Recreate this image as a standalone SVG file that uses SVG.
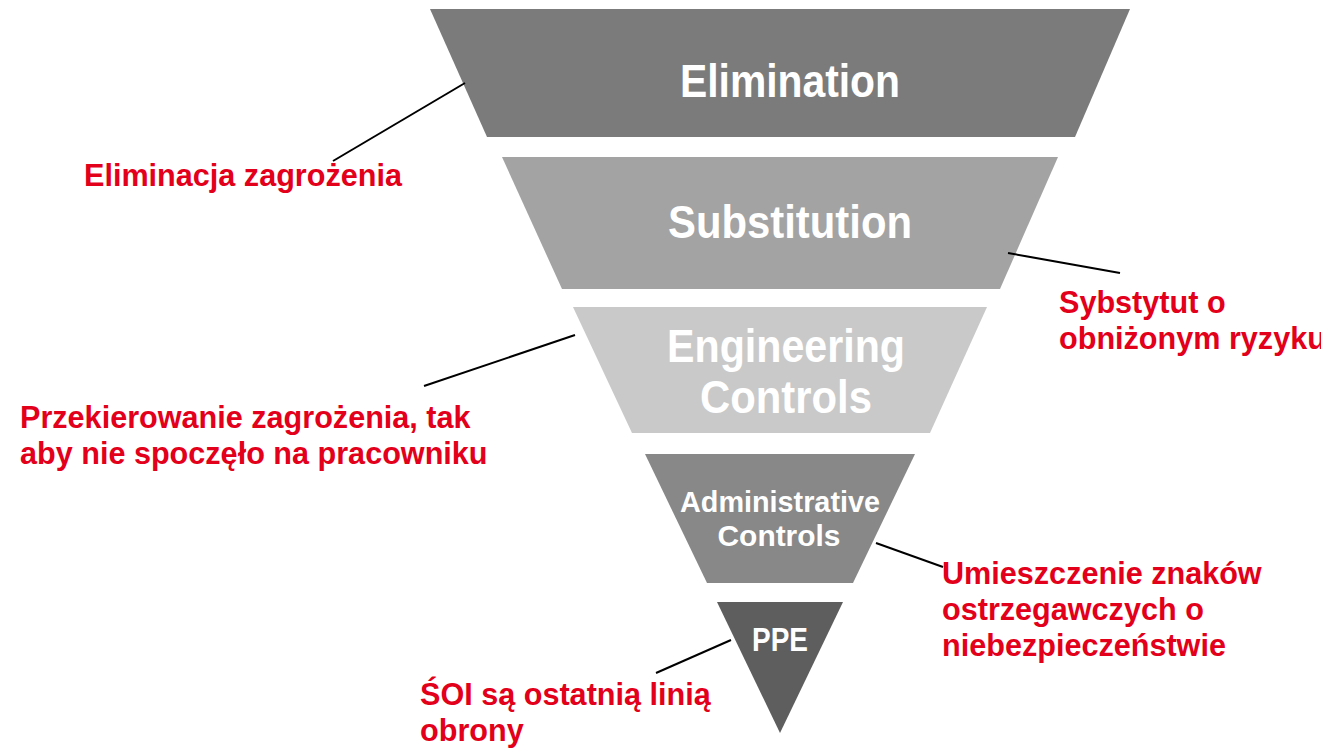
<svg xmlns="http://www.w3.org/2000/svg" width="1321" height="748" viewBox="0 0 1321 748">
  <style>
    .band-label { font-family: "Liberation Sans", Arial, sans-serif; font-weight: bold; fill: #ffffff; text-anchor: middle; }
    .note { font-family: "Liberation Sans", Arial, sans-serif; font-weight: bold; font-size: 30.6px; fill: #e2001a; }
    .leader { stroke: #000000; stroke-width: 2; fill: none; }
  </style>
  <rect width="1321" height="748" fill="#ffffff"/>

  <!-- hierarchy of controls, inverted pyramid -->
  <g id="elimination">
    <polygon points="430,9 1130,9 1075,137 487,137" fill="#7b7b7b"/>
    <text class="band-label" x="790" y="97" font-size="46" textLength="220" lengthAdjust="spacingAndGlyphs">Elimination</text>
  </g>
  <g id="substitution">
    <polygon points="502,157 1058,157 1000,289 562,289" fill="#a3a3a3"/>
    <text class="band-label" x="790" y="238" font-size="46" textLength="244" lengthAdjust="spacingAndGlyphs">Substitution</text>
  </g>
  <g id="engineering-controls">
    <polygon points="573,307 987,307 930,433 632,433" fill="#c9c9c9"/>
    <text class="band-label" x="786" y="362" font-size="46" textLength="238" lengthAdjust="spacingAndGlyphs">Engineering</text>
    <text class="band-label" x="786" y="413" font-size="46" textLength="172" lengthAdjust="spacingAndGlyphs">Controls</text>
  </g>
  <g id="administrative-controls">
    <polygon points="645,454 915,454 853,583 707,583" fill="#888888"/>
    <text class="band-label" x="780" y="512" font-size="30" textLength="200" lengthAdjust="spacingAndGlyphs">Administrative</text>
    <text class="band-label" x="779" y="546" font-size="30" textLength="123" lengthAdjust="spacingAndGlyphs">Controls</text>
  </g>
  <g id="ppe">
    <polygon points="717,602 843,602 780,733" fill="#5e5e5e"/>
    <text class="band-label" x="780" y="651" font-size="33" textLength="56" lengthAdjust="spacingAndGlyphs">PPE</text>
  </g>

  <!-- leader lines from each level to its note -->
  <g id="connectors">
    <line class="leader" x1="465" y1="83" x2="333" y2="161"/>
    <line class="leader" x1="1008" y1="253" x2="1120" y2="273"/>
    <line class="leader" x1="575" y1="335" x2="424" y2="386"/>
    <line class="leader" x1="876" y1="543" x2="943" y2="567"/>
    <line class="leader" x1="731" y1="640" x2="656" y2="673"/>
  </g>

  <!-- notes -->
  <g id="note-elimination">
    <text class="note" x="84" y="186">Eliminacja zagrożenia</text>
  </g>
  <g id="note-substitution">
    <text class="note" x="1059" y="313">Sybstytut o</text>
    <text class="note" x="1059" y="349">obniżonym ryzyku</text>
  </g>
  <g id="note-engineering">
    <text class="note" x="20" y="428">Przekierowanie zagrożenia, tak</text>
    <text class="note" x="20" y="464">aby nie spoczęło na pracowniku</text>
  </g>
  <g id="note-administrative">
    <text class="note" x="942" y="584">Umieszczenie znaków</text>
    <text class="note" x="942" y="620">ostrzegawczych o</text>
    <text class="note" x="942" y="656">niebezpieczeństwie</text>
  </g>
  <g id="note-ppe">
    <text class="note" x="420" y="705">ŚOI są ostatnią linią</text>
    <text class="note" x="420" y="741">obrony</text>
  </g>
</svg>
